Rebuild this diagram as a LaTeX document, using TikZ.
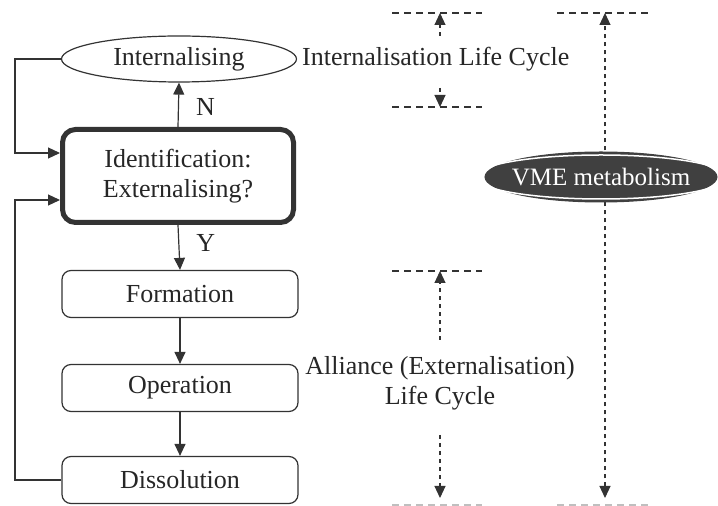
\documentclass[tikz,border=0pt]{standalone}
\usepackage{fontspec}
\setmainfont{Liberation Serif}
\usetikzlibrary{arrows.meta,shapes.geometric}
\begin{document}
\begin{tikzpicture}[x=1pt,y=1pt,
  font=\fontsize{26}{30}\selectfont,
  every node/.style={text=black!85},
  tip/.style={-{Triangle[width=11pt,length=12pt]}},
  conn/.style={draw=black!80,line width=1.2pt,tip},
  stage/.style={draw=black!80,line width=1.2pt,rounded corners=9pt,
    minimum width=236pt,minimum height=47pt,inner sep=0pt},
  decision/.style={draw=black!80,line width=5pt,rounded corners=13pt,
    minimum width=231pt,minimum height=93pt,inner sep=0pt,align=center},
  hdash/.style={draw=black!80,line width=1.1pt,dash pattern=on 7pt off 5pt},
  hdashlight/.style={draw=black!25,line width=1.1pt,dash pattern=on 7pt off 5pt},
  vdash/.style={draw=black!80,line width=1.1pt,dash pattern=on 4pt off 4pt,tip}]
\useasboundingbox (0,0) rectangle (718,506);

% flow of the decision and the alliance stages
\node[ellipse,draw=black!80,line width=1.2pt,minimum width=235pt,minimum height=46pt,inner sep=0pt]
  (int) at (179,447) {Internalising};
\node[decision] (ident) at (178,330) {Identification:\\Externalising?};
\node[stage] (form) at (180,212) {Formation};
\node[stage] (oper) at (180,118) {Operation};
\node[stage] (diss) at (180,26) {Dissolution};

\draw[conn] (ident.north) -- (int.south) node[pos=0.45,right=17pt,inner sep=0pt] (nlab) {N};
\draw[conn] (ident.south) -- (form.north) node[pos=0.4,right=17pt,inner sep=0pt] (ylab) {Y};
\draw[conn] (form) -- (oper);
\draw[conn] (oper) -- (diss);

% feedback loops into the decision box
\coordinate (inA) at (ident.west |- 0,353);
\coordinate (inB) at (ident.west |- 0,306);
\draw[conn] (int.west) -| (15,400) |- (inA);
\draw[conn] (diss.west) -| (15,200) |- (inB);

% life-cycle spans
\node[anchor=west,inner sep=0pt] (intlc) at (302,447) {Internalisation Life Cycle};
\coordinate (i1) at (392,493); \coordinate (i2) at (482,493);
\coordinate (i3) at (392,399); \coordinate (i4) at (482,399);
\draw[hdash] (i1) -- (i2);
\draw[hdash] (i3) -- (i4);
\coordinate (iu0) at (440,470); \coordinate (iu1) at (440,493);
\coordinate (id0) at (440,418); \coordinate (id1) at (440,399);
\draw[vdash] (iu0) -- (iu1);
\draw[vdash] (id0) -- (id1);

\node[align=center,inner sep=0pt] (alc) at (440,123) {Alliance (Externalisation)\\Life Cycle};
\coordinate (a1) at (392,235); \coordinate (a2) at (482,235);
\coordinate (a3) at (392,1); \coordinate (a4) at (482,1);
\draw[hdash] (a1) -- (a2);
\draw[hdashlight] (a3) -- (a4);
\coordinate (au0) at (440,166); \coordinate (au1) at (440,235);
\coordinate (ad0) at (440,71); \coordinate (ad1) at (440,8);
\draw[vdash] (au0) -- (au1);
\draw[vdash] (ad0) -- (ad1);

% whole metabolism span
\coordinate (m1) at (557,493); \coordinate (m2) at (648,493);
\coordinate (m3) at (557,1); \coordinate (m4) at (648,1);
\draw[hdash] (m1) -- (m2);
\draw[hdashlight] (m3) -- (m4);
\coordinate (mt) at (605,493); \coordinate (mb) at (605,8);
\draw[vdash,{Triangle[width=11pt,length=12pt]}-{Triangle[width=11pt,length=12pt]}] (mb) -- (mt);
\node[ellipse,fill=black!75,draw=black!75,line width=1pt,minimum width=232pt,minimum height=50pt,inner sep=0pt]
  (vmeo) at (601,329) {};
\node[ellipse,draw=white,line width=1.5pt,minimum width=226pt,minimum height=44pt,inner sep=0pt,
  text=white,font=\fontsize{25}{28}\selectfont] (vme) at (601,329) {VME metabolism};
\end{tikzpicture}
\end{document}
